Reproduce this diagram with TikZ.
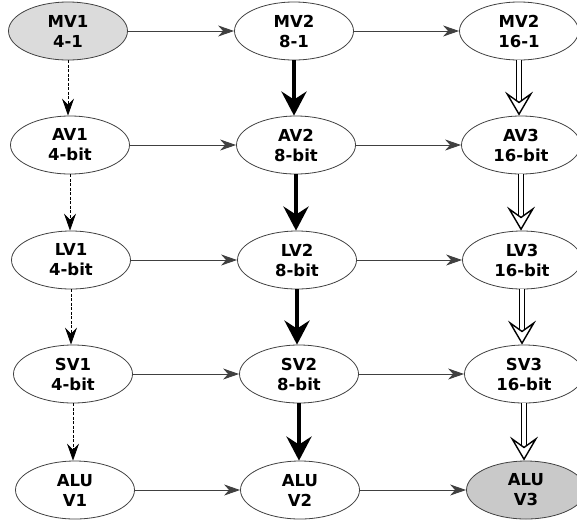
\documentclass[tikz,border=0pt]{standalone}
\usepackage{fontspec}
\setmainfont{DejaVu Sans}
\usetikzlibrary{arrows.meta,shapes.geometric}
\definecolor{lightfill}{gray}{0.86}
\definecolor{darkfill}{gray}{0.79}
\definecolor{edge}{gray}{0.25}
\begin{document}
\begin{tikzpicture}[x=1pt,y=-1pt,
  unit/.style={ellipse,draw=edge,line width=0.8pt,fill=white,minimum width=119pt,minimum height=58pt,inner sep=0pt,align=center,font=\fontsize{16.5}{20}\selectfont\bfseries},
  harrow/.style={draw=edge,line width=1pt,-{Stealth[length=16pt,width=11pt,inset=5pt]}},
  darrow/.style={draw=black,line width=0.8pt,dash pattern=on 3pt off 1.5pt,-{Stealth[length=17pt,width=12pt,inset=6pt]}},
  tarrow/.style={draw=black,line width=4.5pt,-{Stealth[length=24pt,width=25pt,inset=8pt]}},
  warrow/.style={draw=black,double=white,line width=1.4pt,double distance=3.2pt,-{Stealth[open,fill=white,length=24pt,width=28pt,inset=10pt,line width=1.4pt]}}
]
\useasboundingbox (0,0) rectangle (577,525);
% row 0
\node[unit,fill=lightfill] (mv1) at (68,31) {MV1\\4-1};
\node[unit] (mv2) at (294,31) {MV2\\8-1};
\node[unit] (mv3) at (519,31) {MV2\\16-1};
% row 1
\node[unit] (av1) at (70,145) {AV1\\4-bit};
\node[unit] (av2) at (296,145) {AV2\\8-bit};
\node[unit] (av3) at (521,145) {AV3\\16-bit};
% row 2
\node[unit] (lv1) at (71,260) {LV1\\4-bit};
\node[unit] (lv2) at (297,260) {LV2\\8-bit};
\node[unit] (lv3) at (522,260) {LV3\\16-bit};
% row 3
\node[unit] (sv1) at (73,374) {SV1\\4-bit};
\node[unit] (sv2) at (299,374) {SV2\\8-bit};
\node[unit] (sv3) at (524,374) {SV3\\16-bit};
% row 4
\node[unit] (alu1) at (75,490) {ALU\\V1};
\node[unit] (alu2) at (300,490) {ALU\\V2};
\node[unit,fill=darkfill] (alu3) at (526,490) {ALU\\V3};
% horizontal
\foreach \r in {mv,av,lv,sv,alu}{
  \draw[harrow] (\r1.east) -- (\r2.west);
  \draw[harrow] (\r2.east) -- (\r3.west);
}
% vertical
\draw[darrow] (mv1.south) -- (mv1.south |- av1.north);
\draw[darrow] (av1.south) -- (av1.south |- lv1.north);
\draw[darrow] (lv1.south) -- (lv1.south |- sv1.north);
\draw[darrow] (sv1.south) -- (sv1.south |- alu1.north);
\draw[tarrow] (mv2.south) -- (mv2.south |- av2.north);
\draw[tarrow] (av2.south) -- (av2.south |- lv2.north);
\draw[tarrow] (lv2.south) -- (lv2.south |- sv2.north);
\draw[tarrow] (sv2.south) -- (sv2.south |- alu2.north);
\draw[warrow] (mv3.south) -- (mv3.south |- av3.north);
\draw[warrow] (av3.south) -- (av3.south |- lv3.north);
\draw[warrow] (lv3.south) -- (lv3.south |- sv3.north);
\draw[warrow] (sv3.south) -- (sv3.south |- alu3.north);
\end{tikzpicture}
\end{document}
